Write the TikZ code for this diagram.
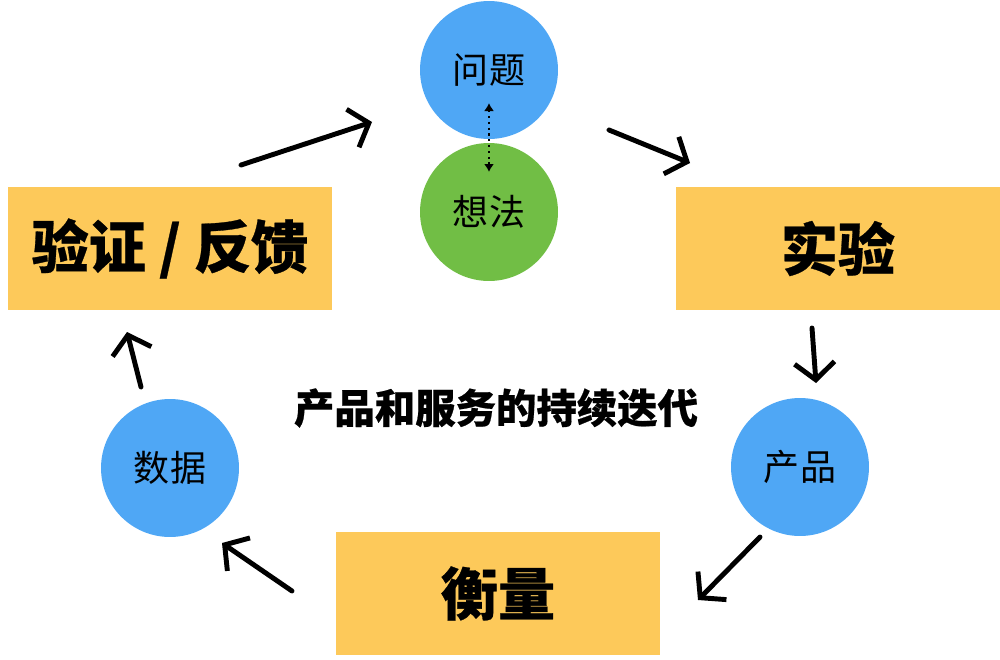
\documentclass[tikz,border=0pt]{standalone}
\usepackage{fontspec}
\newfontfamily\cjk{Noto Sans CJK SC}[BoldFeatures={FakeBold=0.5}]
\usetikzlibrary{arrows.meta,positioning}
\definecolor{qblue}{HTML}{4FA7F5}
\definecolor{qgreen}{HTML}{71BE45}
\definecolor{qyellow}{HTML}{FDC95A}

\begin{document}
\begin{tikzpicture}[x=0.02cm,y=-0.02cm,inner sep=0pt,
  bubble/.style={circle,minimum size=2.76cm,font=\cjk\fontsize{20.5}{24}\selectfont},
  stage/.style={fill=qyellow,minimum width=6.48cm,minimum height=2.46cm,font=\cjk\bfseries\fontsize{32.5}{36}\selectfont},
  sketch/.style={line width=2.8pt,line cap=round,-{Straight Barb[length=3.4mm,width=8mm,line width=2.8pt]}}]
\useasboundingbox (0,0) rectangle (1000,659);
\node[bubble,fill=qblue] (wenti) at (489,70) {问题};
\node[bubble,fill=qgreen] (xiangfa) at (489,212) {想法};
\node[stage] (yanzheng) at (170,248.5) {验证 / 反馈};
\node[stage] (shiyan) at (838,248.5) {实验};
\node[stage] (hengliang) at (498,593.5) {衡量};
\node[bubble,fill=qblue] (chanpin) at (800,467) {产品};
\node[bubble,fill=qblue] (shuju) at (170,468) {数据};
\node[font=\cjk\bfseries\fontsize{23}{26}\selectfont] (diedai) at (496,408) {产品和服务的持续迭代};
\coordinate (dtop) at (489,103);
\coordinate (dbot) at (489,172);
\draw[dotted,line width=1.3pt,{Latex[length=1.6mm,width=2mm]}-{Latex[length=1.6mm,width=2mm]}] (dtop) -- (dbot);
\coordinate (a1) at (241,165); \coordinate (b1) at (372,122);
\coordinate (a2) at (609,130); \coordinate (b2) at (690,163);
\coordinate (a3) at (812,328); \coordinate (b3) at (816,383);
\coordinate (a4) at (760,537); \coordinate (b4) at (698,600);
\coordinate (a5) at (292,591); \coordinate (b5) at (222,543);
\coordinate (a6) at (141,387); \coordinate (b6) at (127,332);
\foreach \i in {1,...,6}
  \draw[sketch] (a\i) -- (b\i);
\end{tikzpicture}
\end{document}
